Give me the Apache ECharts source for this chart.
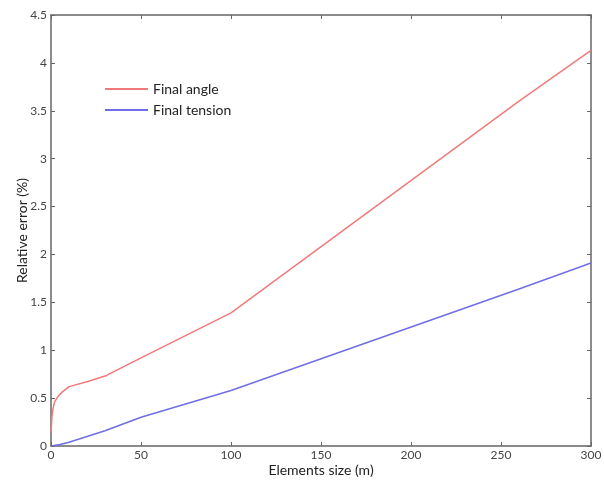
<!DOCTYPE html>
<html>
<head>
<meta charset="utf-8">
<script src="https://cdn.jsdelivr.net/npm/echarts@6/dist/echarts.min.js"></script>
<style>html,body{margin:0;padding:0;background:#fff}#c{width:604px;height:480px}</style>
</head>
<body>
<div id="c"></div>
<script>
var angleX = [0, 0.5, 1, 2, 4, 6, 10, 20, 30, 50, 100, 260, 300];
var angleY = [0.14, 0.30, 0.38, 0.46, 0.52, 0.56, 0.62, 0.67, 0.73, 0.92, 1.39, 3.60, 4.13];
var tensionX = [0, 5, 10, 20, 30, 50, 100, 260, 300];
var tensionY = [0, 0.015, 0.04, 0.10, 0.16, 0.30, 0.58, 1.64, 1.91];
var seriesNames = ['Final angle', 'Final tension'];
var xTitle = 'Elements size (m)';
var yTitle = 'Relative error (%)';

function pairs(xs, ys) { return xs.map(function (x, i) { return [x, ys[i]]; }); }

var axisCol = '#666';
var font = 'Lato, "Open Sans", sans-serif';
var chart = echarts.init(document.getElementById('c'));
chart.setOption({
  animation: false,
  backgroundColor: '#fff',
  grid: { left: 51, right: 13, top: 15, bottom: 34, containLabel: false, outerBoundsMode: 'none' },
  legend: {
    orient: 'vertical', left: 100, top: 76, itemWidth: 43, itemHeight: 2, itemGap: 5,
    icon: 'rect',
    textStyle: { fontFamily: font, fontSize: 14, color: '#222', lineHeight: 16 },
    data: seriesNames
  },
  xAxis: [{
    type: 'value', min: 0, max: 300, interval: 50, position: 'bottom',
    name: xTitle, nameLocation: 'middle', nameGap: 17, nameMoveOverlap: false,
    nameTextStyle: { fontFamily: font, fontSize: 14, color: '#222' },
    axisLine: { show: true, onZero: false, lineStyle: { color: axisCol, width: 1.5 } },
    axisTick: { show: true, inside: true, length: 4, lineStyle: { color: axisCol } },
    axisLabel: { fontFamily: font, fontSize: 12, color: '#444', margin: 3 },
    splitLine: { show: false }
  }, {
    type: 'value', min: 0, max: 300, interval: 50, position: 'top',
    axisLine: { show: true, onZero: false, lineStyle: { color: axisCol, width: 1.5 } },
    axisTick: { show: true, inside: true, length: 4, lineStyle: { color: axisCol } },
    axisLabel: { show: false }, splitLine: { show: false }
  }],
  yAxis: [{
    type: 'value', min: 0, max: 4.5, interval: 0.5, position: 'left',
    name: yTitle, nameLocation: 'middle', nameGap: 22, nameMoveOverlap: false,
    nameTextStyle: { fontFamily: font, fontSize: 14, color: '#222' },
    axisLine: { show: true, onZero: false, lineStyle: { color: axisCol, width: 1.5 } },
    axisTick: { show: true, inside: true, length: 4, lineStyle: { color: axisCol } },
    axisLabel: { fontFamily: font, fontSize: 12, color: '#444', margin: 4 },
    splitLine: { show: false }
  }, {
    type: 'value', min: 0, max: 4.5, interval: 0.5, position: 'right',
    axisLine: { show: true, onZero: false, lineStyle: { color: axisCol, width: 1.5 } },
    axisTick: { show: true, inside: true, length: 4, lineStyle: { color: axisCol } },
    axisLabel: { show: false }, splitLine: { show: false }
  }],
  series: [{
    name: seriesNames[0], type: 'line', showSymbol: false, symbol: 'none',
    data: pairs(angleX, angleY),
    itemStyle: { color: '#f07a7a' },
    lineStyle: { color: '#f07a7a', width: 1.5 }
  }, {
    name: seriesNames[1], type: 'line', showSymbol: false, symbol: 'none',
    data: pairs(tensionX, tensionY),
    itemStyle: { color: '#6f6ee6' },
    lineStyle: { color: '#6f6ee6', width: 1.5 }
  }]
});
</script>
</body>
</html>
